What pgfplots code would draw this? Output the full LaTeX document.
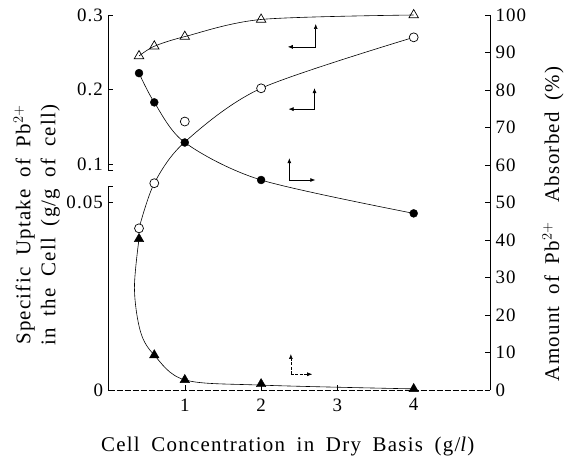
\documentclass[border=0pt]{standalone}
\usepackage{fontspec}
\setmainfont{Liberation Serif}
\newfontfamily\labfont{Liberation Serif}[LetterSpace=6,WordSpace=1.8]
\usepackage{pgfplots}
\pgfplotsset{compat=1.18}
\usetikzlibrary{arrows.meta}

\begin{document}
\begin{tikzpicture}
\pgfplotsset{
  common/.style={
    scale only axis, width=381.5bp, height=375bp,
    xmin=0, xmax=5, clip=false,
    tick align=inside, major tick length=5bp,
    tick style={black, line width=0.6pt},
    /pgf/number format/assume math mode=true,
    tick label style={font=\labfont\fontsize{19}{19}\selectfont},
    label style={font=\labfont\fontsize{21}{25}\selectfont},
  }
}
% ---------- left axis: specific uptake (broken scale) ----------
\begin{axis}[common,
  ymin=0, ymax=0.3,
  y coord trafo/.code={\pgfmathparse{ifthenelse(#1<=0.055, 1002.67*#1, ifthenelse(#1>=0.09, 60.27+198.67*(#1-0.1), 55.15+89.4*(#1-0.055)))}},
  axis x line*=bottom, axis y line*=left,
  axis line style={draw=none},
  xtick={1,2,3,4},
  ytick={0,0.05,0.1,0.2,0.3},
  yticklabels={0,0.05,0.1,0.2,0.3},
  xticklabel style={yshift=-5bp},
  yticklabel style={xshift=-2bp},
  xlabel={Cell Concentration in Dry Basis (g/\textit{l})},
  xlabel style={at={(axis description cs:0.47,-0.152)}, anchor=center},
  ylabel={Specific Uptake of Pb$^{2+}$\\in the Cell (g/g of cell)},
  ylabel style={at={(axis description cs:-0.188,0.44)}, anchor=center, align=center, rotate=0},
]
% open triangles
\addplot[black, line width=0.6pt, smooth, tension=0.5, no marks]
  coordinates {(0.4,0.245) (0.6,0.258) (1,0.271) (2,0.294) (4,0.300)};
\addplot[only marks, mark=triangle, mark size=5.5pt, mark options={fill=white, draw=black, line width=0.7pt}]
  coordinates {(0.4,0.245) (0.6,0.258) (1,0.271) (2,0.294) (4,0.300)};
% open circles
\addplot[black, line width=0.6pt, smooth, tension=0.5, no marks]
  coordinates {(0.4,0.043) (0.6,0.055) (1,0.1295) (2,0.2016) (4,0.270)};
\addplot[only marks, mark=*, mark size=4.5pt, mark options={fill=white, draw=black, line width=0.7pt}]
  coordinates {(0.4,0.043) (0.6,0.055) (1,0.157) (2,0.2016) (4,0.270)};
\end{axis}
% ---------- right axis: amount absorbed (%) ----------
\begin{axis}[common,
  ymin=0, ymax=100,
  axis x line=none, axis y line*=right,
  axis line style={line width=0.6pt},
  ytick={0,10,...,100},
  yticklabel style={xshift=2bp},
  ylabel={Amount of Pb$^{2+}$\hspace{0.4em} Absorbed (\%)},
  ylabel style={at={(axis description cs:1.165,0.443)}, anchor=center},
]
% filled circles
\addplot[black, line width=0.6pt, smooth, tension=0.5, no marks]
  coordinates {(0.4,84.5) (0.6,76.7) (1,66) (2,56) (4,47.1)};
\addplot[only marks, mark=*, mark size=4pt, mark options={fill=black, draw=black}]
  coordinates {(0.4,84.5) (0.6,76.7) (1,66) (2,56) (4,47.1)};
% filled triangles
\addplot[black, line width=0.6pt, smooth, tension=0.55, no marks]
  coordinates {(0.4,40.3) (0.34,27) (0.42,15.5) (0.6,9.3) (1,2.7) (2,1.3) (4,0.3)};
\addplot[only marks, mark=triangle*, mark size=5.5pt, mark options={fill=black, draw=black}]
  coordinates {(0.4,40.3) (0.6,9.3) (1,2.7) (2,1.6) (4,0.3)};
% broken left axis line
\draw[line width=0.6pt] (axis cs:0,0) -- (axis cs:0,54.2) -- (axis cs:0.06,54.2);
\draw[line width=0.6pt] (axis cs:0.06,58.67) -- (axis cs:0,58.67) -- (axis cs:0,100);
% bottom axis line
\draw[line width=0.5pt, dash pattern=on 6bp off 2bp] (axis cs:0,0) -- (axis cs:5,0);
% legend arrows
\tikzset{leg/.style={line width=0.6pt, -{Latex[length=5bp,width=4bp]}}}
\draw[leg] (axis cs:2.716,91.5) -- (axis cs:2.716,97.6);
\draw[leg] (axis cs:2.716,91.5) -- (axis cs:2.35,91.5);
\draw[leg] (axis cs:2.70,74.9) -- (axis cs:2.70,80.5);
\draw[leg] (axis cs:2.70,74.9) -- (axis cs:2.36,74.9);
\draw[leg] (axis cs:2.37,56) -- (axis cs:2.37,61.8);
\draw[leg] (axis cs:2.37,56) -- (axis cs:2.71,56);
\draw[leg, dash pattern=on 3bp off 1.5bp] (axis cs:2.39,4.2) -- (axis cs:2.39,9.6);
\draw[leg, dash pattern=on 3bp off 1.5bp] (axis cs:2.39,4.2) -- (axis cs:2.67,4.2);
\end{axis}
\pgfresetboundingbox
\path (-108.5bp,-80bp) rectangle (462.5bp,390bp);
\end{tikzpicture}
\end{document}
